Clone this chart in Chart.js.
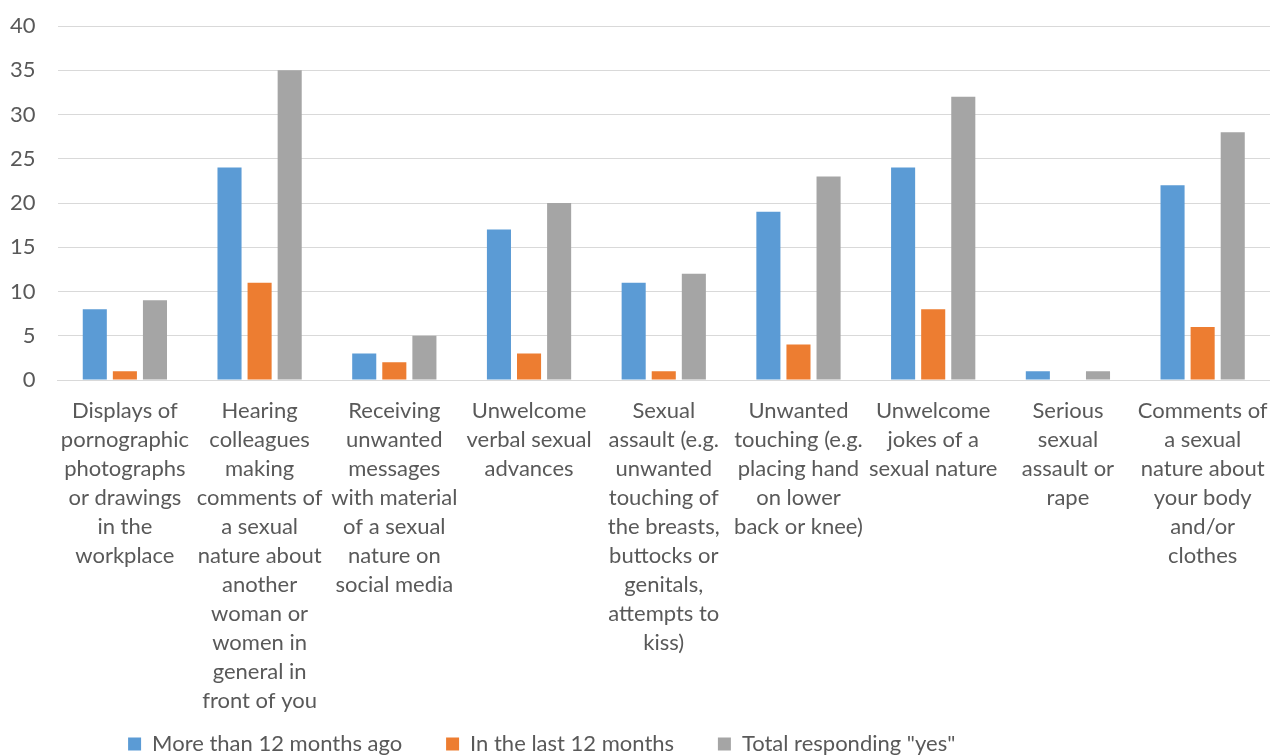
<!DOCTYPE html>
<html>
<head>
<meta charset="utf-8">
<script src="https://cdn.jsdelivr.net/npm/chart.js@4"></script>
<style>
  html, body { margin: 0; padding: 0; background: #fff; }
  #wrap { width: 1270px; height: 755px; }
</style>
</head>
<body>
<div id="wrap"><canvas id="barChart"></canvas></div>
<script>
var categories = [
  ['Displays of', 'pornographic', 'photographs', 'or drawings', 'in the', 'workplace'],
  ['Hearing', 'colleagues', 'making', 'comments of', 'a sexual', 'nature about', 'another', 'woman or', 'women in', 'general in', 'front of you'],
  ['Receiving', 'unwanted', 'messages', 'with material', 'of a sexual', 'nature on', 'social media'],
  ['Unwelcome', 'verbal sexual', 'advances'],
  ['Sexual', 'assault (e.g.', 'unwanted', 'touching of', 'the breasts,', 'buttocks or', 'genitals,', 'attempts to', 'kiss)'],
  ['Unwanted', 'touching (e.g.', 'placing hand', 'on lower', 'back or knee)'],
  ['Unwelcome', 'jokes of a', 'sexual nature'],
  ['Serious', 'sexual', 'assault or', 'rape'],
  ['Comments of', 'a sexual', 'nature about', 'your body', 'and/or', 'clothes']
];

var moreThan12 = [8, 24, 3, 17, 11, 19, 24, 1, 22];
var last12 = [1, 11, 2, 3, 1, 4, 8, 0, 6];
var totalYes = [9, 35, 5, 20, 12, 23, 32, 1, 28];

var yTicks = [0, 5, 10, 15, 20, 25, 30, 35, 40];

var seriesNames = ['More than 12 months ago', 'In the last 12 months', 'Total responding "yes"'];

var textColor = '#595959';
var gridColor = '#d9d9d9';

Chart.defaults.font.family = 'Lato, "Open Sans", sans-serif';

// trailing blanks spread the legend entries out like the original
var legendTails = [6, 6, 31];

var ctx = document.getElementById('barChart');
var data = {
  labels: categories,
  datasets: [
    { label: seriesNames[0], data: moreThan12, backgroundColor: '#5b9bd5' },
    { label: seriesNames[1], data: last12, backgroundColor: '#ed7d31' },
    { label: seriesNames[2], data: totalYes, backgroundColor: '#a5a5a5' }
  ]
};

var options = {
  responsive: true,
  maintainAspectRatio: false,
  animation: false,
  datasets: {
    bar: { categoryPercentage: 0.67, barPercentage: 0.8 }
  },
  layout: { padding: { top: 0, left: -12, right: 0, bottom: -10 } },
  plugins: {
    tooltip: { enabled: false },
    legend: {
      position: 'bottom',
      labels: {
        boxWidth: 13,
        boxHeight: 13,
        padding: 10,
        color: textColor,
        font: { size: 22 },
        generateLabels: function (chart) {
          var items = Chart.defaults.plugins.legend.labels.generateLabels(chart);
          items.forEach(function (item, i) {
            item.text = item.text + ' '.repeat(legendTails[i] || 0);
          });
          return items;
        }
      }
    }
  },
  scales: {
    x: {
      grid: { display: false },
      border: { display: true, color: gridColor, width: 1 },
      ticks: {
        color: textColor,
        font: { size: 22, lineHeight: '29px' },
        maxRotation: 0,
        minRotation: 0,
        autoSkip: false,
        padding: 8
      },
      afterFit: function (axis) {
        // let the plot run to the right edge like the original
        axis.paddingLeft = 0;
        axis.paddingRight = 0;
      }
    },
    y: {
      min: 0,
      max: 40,
      afterBuildTicks: function (axis) {
        axis.ticks = yTicks.map(function (v) { return { value: v }; });
      },
      afterFit: function (axis) {
        axis.paddingTop = 26;
      },
      grid: { color: gridColor, drawTicks: false },
      border: { display: false },
      ticks: {
        color: textColor,
        font: { size: 22 },
        padding: 22
      }
    }
  }
};

var myBarChart = new Chart(ctx, {
  type: 'bar',
  data: data,
  options: options
});
</script>
</body>
</html>
